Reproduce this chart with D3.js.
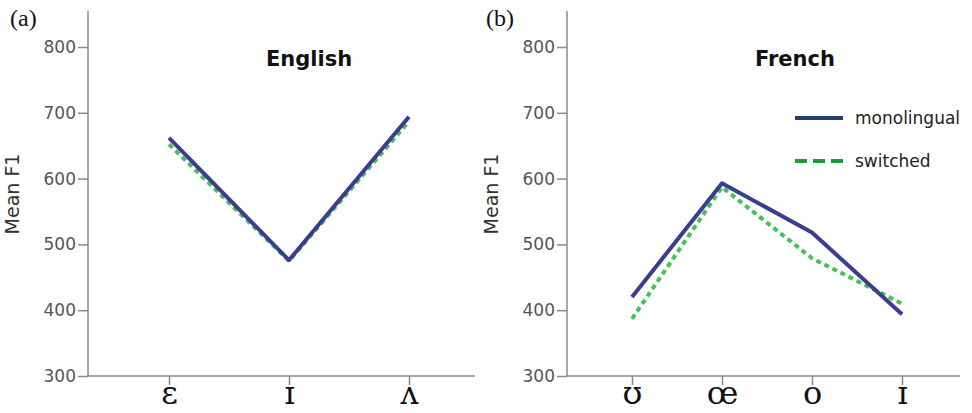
<!DOCTYPE html>
<html>
<head>
<meta charset="utf-8">
<script src="https://cdn.jsdelivr.net/npm/d3@7"></script>
<style>
  html, body { margin: 0; padding: 0; background: #fff; }
  svg { display: block; }
</style>
</head>
<body>
<svg id="chart" width="972" height="413"></svg>
<script>
// Mean F1 (Hz) per vowel, for the monolingual and switched conditions
const englishVowels = ["ɛ", "ɪ", "ʌ"];
const englishMonolingual = [662, 476, 694];
const englishSwitched = [652, 475, 687];

const frenchVowels = ["ʊ", "œ", "o", "ɪ"];
const frenchMonolingual = [420, 593, 518, 394];
const frenchSwitched = [387, 587, 479, 410];

const yTicks = [300, 400, 500, 600, 700, 800];
const seriesNames = ["monolingual", "switched"];

const svg = d3.select("#chart");

const y = d3.scaleLinear().domain([300, 800]).range([376, 47]);

const styles = {
  monolingual: { color: "#3b3d8e", dash: null },
  switched: { color: "#46c157", dash: "5,4" }
};

function drawPanel(cfg) {
  const g = svg.append("g");
  const x = d3.scalePoint().domain(cfg.categories).range(cfg.pointRange);

  // panel letter
  g.append("text")
    .attr("x", cfg.letterX).attr("y", 26)
    .attr("font-family", "Liberation Serif, Times New Roman, serif")
    .attr("font-size", 24)
    .attr("fill", "#111")
    .text(cfg.letter);

  // y axis
  const yAxis = d3.axisLeft(y).tickValues(yTicks).tickSize(10).tickPadding(2).tickFormat(d3.format("d"));
  const ya = g.append("g").attr("transform", `translate(${cfg.axisX},0)`).call(yAxis);
  ya.select(".domain").remove();
  ya.selectAll(".tick line").attr("stroke", "#8a8a8a").attr("stroke-width", 1.5);
  ya.selectAll(".tick text")
    .attr("font-family", "DejaVu Sans, sans-serif")
    .attr("font-size", 17)
    .attr("fill", "#555");
  g.append("line")
    .attr("x1", cfg.axisX).attr("x2", cfg.axisX)
    .attr("y1", 11).attr("y2", y(300))
    .attr("stroke", "#8a8a8a").attr("stroke-width", 1.5);

  // x axis
  const xAxis = d3.axisBottom(x).tickSize(9).tickPadding(2);
  const xa = g.append("g").attr("transform", `translate(0,${y(300)})`).call(xAxis);
  xa.select(".domain").remove();
  xa.selectAll(".tick line").attr("stroke", "#8a8a8a").attr("stroke-width", 1.5);
  xa.selectAll(".tick text")
    .attr("font-family", "DejaVu Serif, serif")
    .attr("font-size", 32)
    .attr("fill", "#111")
    .attr("dy", null)
    .attr("y", 28);
  g.append("line")
    .attr("x1", cfg.axisX).attr("x2", cfg.axisEnd)
    .attr("y1", y(300)).attr("y2", y(300))
    .attr("stroke", "#8a8a8a").attr("stroke-width", 1.5);

  // y axis title
  g.append("text")
    .attr("transform", `translate(${cfg.axisX - 69},194) rotate(-90)`)
    .attr("text-anchor", "middle")
    .attr("font-family", "DejaVu Sans, sans-serif")
    .attr("font-size", 19)
    .attr("fill", "#333")
    .text("Mean F1");

  // chart title
  g.append("text")
    .attr("x", cfg.titleX).attr("y", 66)
    .attr("text-anchor", "middle")
    .attr("font-family", "DejaVu Sans, sans-serif")
    .attr("font-weight", "bold")
    .attr("font-size", 21)
    .attr("fill", "#111")
    .text(cfg.title);

  const line = d3.line()
    .x((d, i) => x(cfg.categories[i]))
    .y(d => y(d));

  // switched drawn first, monolingual on top
  [["switched", cfg.switched], ["monolingual", cfg.monolingual]].forEach(([name, vals]) => {
    g.append("path")
      .datum(vals)
      .attr("d", line)
      .attr("fill", "none")
      .attr("stroke", styles[name].color)
      .attr("stroke-width", 4)
      .attr("stroke-dasharray", styles[name].dash)
      .attr("stroke-linejoin", "round");
  });
  return g;
}

drawPanel({
  letter: "(a)", letterX: 10, title: "English", titleX: 309,
  axisX: 88, axisEnd: 475, pointRange: [169, 409],
  categories: englishVowels, monolingual: englishMonolingual, switched: englishSwitched
});

const fr = drawPanel({
  letter: "(b)", letterX: 486, title: "French", titleX: 795,
  axisX: 567, axisEnd: 960, pointRange: [632, 902],
  categories: frenchVowels, monolingual: frenchMonolingual, switched: frenchSwitched
});

// legend
const legendColors = { monolingual: "#1f3f6f", switched: "#1d9b2f" };
const legendDash = { monolingual: null, switched: "12,6" };
const legend = fr.append("g").attr("transform", "translate(795,118)");
seriesNames.forEach((name, i) => {
  const row = legend.append("g").attr("transform", `translate(0,${i * 43})`);
  row.append("line")
    .attr("x1", 0).attr("x2", 48)
    .attr("stroke", legendColors[name])
    .attr("stroke-width", 4)
    .attr("stroke-dasharray", legendDash[name]);
  row.append("text")
    .attr("x", 60).attr("y", 6)
    .attr("font-family", "DejaVu Sans, sans-serif")
    .attr("font-size", 17)
    .attr("fill", "#222")
    .text(name);
});
</script>
</body>
</html>
